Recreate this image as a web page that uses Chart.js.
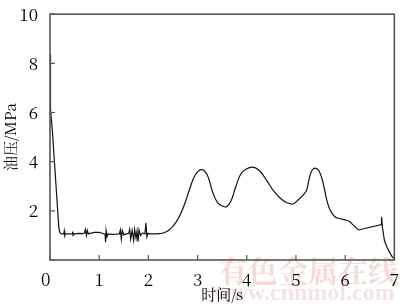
<!DOCTYPE html>
<html>
<head>
<meta charset="utf-8">
<script src="https://cdn.jsdelivr.net/npm/chart.js@4"></script>
<style>
html,body{margin:0;padding:0;background:#fff;}
#wrap{width:400px;height:304px;position:relative;}
</style>
</head>
<body>
<div id="wrap"><canvas id="c" width="400" height="304"></canvas></div>
<script>
// ---- data ----
const xTicks = [0, 1, 2, 3, 4, 5, 6, 7];
const yTicks = [0, 2, 4, 6, 8, 10];

// initial pressure drop
const dropX = [0, 0, 0.02, 0.05, 0.18, 0.20, 0.23];
const dropY = [8.35, 5.9, 6.15, 5.2, 1.3, 1.12, 1.06];

// noisy plateau
const noiseX = [0.23, 0.28, 0.29, 0.30, 0.31, 0.40, 0.45, 0.46, 0.47, 0.49, 0.60, 0.66, 0.70, 0.72, 0.74, 0.76, 0.78,
                0.82, 0.90, 1.00, 1.08, 1.12, 1.13, 1.14, 1.16, 1.18, 1.25, 1.35, 1.41, 1.43, 1.45, 1.47, 1.50,
                1.55, 1.60, 1.62, 1.64, 1.67, 1.70, 1.72, 1.75, 1.77, 1.79, 1.81, 1.84, 1.88, 1.93, 1.95, 1.97,
                1.99, 2.05, 2.15];
const noiseY = [1.06, 1.06, 1.18, 1.00, 1.06, 1.06, 1.06, 1.16, 1.00, 1.06, 1.08, 1.07, 1.10, 1.25, 1.00, 1.20, 1.06,
                1.08, 1.12, 1.12, 1.08, 1.04, 0.72, 1.20, 0.95, 1.06, 1.04, 1.05, 1.06, 1.22, 0.85, 1.20, 1.02,
                1.06, 1.08, 1.25, 0.85, 1.20, 0.80, 1.25, 0.88, 1.18, 0.75, 1.22, 1.00, 1.10, 1.06, 1.50, 0.95,
                1.08, 1.06, 1.06];

// smooth pressure waves
const waveX = [2.15, 2.30, 2.42, 2.55, 2.65, 2.75, 2.85, 2.95, 3.08, 3.20, 3.30, 3.40, 3.50, 3.59, 3.68, 3.78,
               3.90, 4.10, 4.25, 4.40, 4.55, 4.70, 4.82, 4.94, 5.05, 5.18, 5.22, 5.28, 5.33, 5.39,
               5.47, 5.55, 5.62, 5.69, 5.79, 5.90, 6.00, 6.08, 6.15, 6.27];
const waveY = [1.06, 1.10, 1.22, 1.50, 1.85, 2.35, 2.95, 3.45, 3.68, 3.45, 2.80, 2.35, 2.20, 2.17, 2.40, 3.00,
               3.55, 3.78, 3.65, 3.25, 2.80, 2.48, 2.33, 2.28, 2.45, 2.72, 2.85, 3.40, 3.65, 3.74,
               3.62, 3.15, 2.50, 2.05, 1.76, 1.68, 1.63, 1.58, 1.45, 1.22];

// tail
const tailX = [6.27, 6.74, 6.74, 6.76, 6.80, 6.85, 6.90, 6.95, 7.00];
const tailY = [1.22, 1.44, 1.76, 1.30, 0.78, 0.52, 0.33, 0.15, 0.05];

const yTitle = '油压/MPa';
const xTitle = '时间/s';

const SERIF = "'Noto Serif CJK SC', serif";

const zip = (xs, ys) => xs.map((x, i) => ({x: x, y: ys[i]}));

const lineStyle = {borderColor: '#111', borderWidth: 1.2, pointRadius: 0, fill: false};

const framePlugin = {
  id: 'frame',
  beforeDraw(chart) {
    const ctx = chart.ctx;
    ctx.save();
    ctx.fillStyle = '#fff';
    ctx.fillRect(0, 0, chart.width, chart.height);
    // watermark
    ctx.fillStyle = 'rgba(226,150,150,0.35)';
    ctx.font = "bold 30px 'Noto Serif CJK SC'";
    ctx.textAlign = 'center';
    ctx.textBaseline = 'middle';
    ctx.fillText('有色金属在线', 308, 271);
    ctx.font = "bold 24px 'Liberation Serif'";
    ctx.fillStyle = 'rgba(226,160,160,0.3)';
    ctx.fillText('www.cnnmol.com', 304, 294);
    ctx.restore();
  },
  afterDatasetsDraw(chart) {
    const ctx = chart.ctx;
    const a = chart.chartArea;
    const xs = chart.scales.x, ys = chart.scales.y;
    ctx.save();
    ctx.strokeStyle = '#555';
    ctx.lineWidth = 1.6;
    ctx.strokeRect(a.left, a.top, a.right - a.left, a.bottom - a.top);
    ctx.lineWidth = 1.2;
    ctx.beginPath();
    xTicks.forEach(v => {
      const px = xs.getPixelForValue(v);
      ctx.moveTo(px, a.bottom);
      ctx.lineTo(px, a.bottom - 5);
    });
    yTicks.forEach(v => {
      const py = ys.getPixelForValue(v);
      ctx.moveTo(a.left, py);
      ctx.lineTo(a.left + 5, py);
    });
    ctx.stroke();
    ctx.restore();
  }
};

function build() {
  new Chart(document.getElementById('c'), {
    type: 'line',
    data: {
      datasets: [
        Object.assign({data: zip(dropX, dropY), tension: 0}, lineStyle),
        Object.assign({data: zip(noiseX, noiseY), tension: 0}, lineStyle),
        Object.assign({data: zip(waveX, waveY), tension: 0.4}, lineStyle),
        Object.assign({data: zip(tailX, tailY), tension: 0}, lineStyle)
      ]
    },
    options: {
      responsive: false,
      animation: false,
      devicePixelRatio: 1,
      layout: {padding: {top: 5, right: 3, left: 0, bottom: 0}},
      plugins: {legend: {display: false}, tooltip: {enabled: false}},
      scales: {
        x: {
          type: 'linear', min: 0, max: 7,
          afterBuildTicks: s => { s.ticks = xTicks.map(v => ({value: v})); },
          afterFit: s => { s.height = 44; },
          grid: {display: false},
          border: {display: false},
          ticks: {color: '#000', padding: 1, font: {family: SERIF, size: 17},
                  callback: v => v === 0 ? '0\u2002' : String(v)},
          title: {display: true, text: xTitle, color: '#000', padding: {top: 0, bottom: 0.5},
                  font: {family: SERIF, size: 15}}
        },
        y: {
          type: 'linear', min: 0, max: 10,
          afterBuildTicks: s => { s.ticks = yTicks.map(v => ({value: v})); },
          afterFit: s => { s.width = 50; },
          grid: {display: false},
          border: {display: false},
          ticks: {color: '#000', padding: 4, font: {family: SERIF, size: 17},
                  callback: v => v === 0 ? '' : String(v)},
          title: {display: true, text: yTitle, color: '#000', padding: {top: 1.5, bottom: 0},
                  font: {family: SERIF, size: 15}}
        }
      }
    },
    plugins: [framePlugin]
  });
}

Promise.all([
  document.fonts.load("17px 'Noto Serif CJK SC'", '0123456789油压时间MPas'),
  document.fonts.load("bold 30px 'Noto Serif CJK SC'", '有色金属在线'),
  document.fonts.load("bold 24px 'Liberation Serif'", 'www.cnnmol.com')
]).then(build, build);
</script>
</body>
</html>
